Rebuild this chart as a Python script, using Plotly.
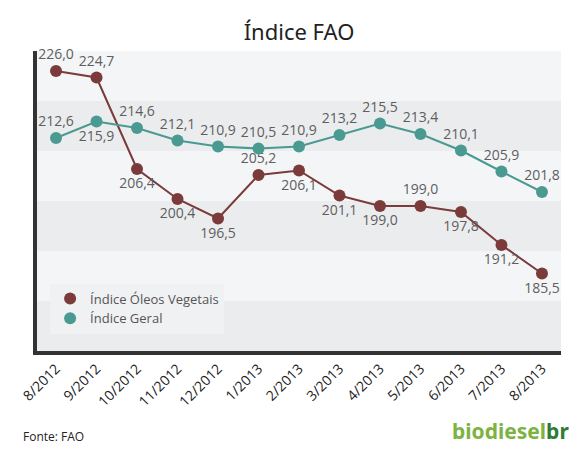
import plotly.graph_objects as go

meses = ["8/2012", "9/2012", "10/2012", "11/2012", "12/2012", "1/2013", "2/2013",
         "3/2013", "4/2013", "5/2013", "6/2013", "7/2013", "8/2013"]
oleos = [226.0, 224.7, 206.4, 200.4, 196.5, 205.2, 206.1, 201.1, 199.0, 199.0, 197.8, 191.2, 185.5]
geral = [212.6, 215.9, 214.6, 212.1, 210.9, 210.5, 210.9, 213.2, 215.5, 213.4, 210.1, 205.9, 201.8]
pos_oleos = ["top center", "top center", "bottom center", "bottom center", "bottom center", "top center",
             "bottom center", "bottom center", "bottom center", "top center", "bottom center",
             "bottom center", "bottom center"]
pos_geral = ["top center", "bottom center"] + ["top center"] * 11

def fmt(v):
    return f"{v:.1f}".replace(".", ",")

fig = go.Figure()
x = list(range(len(meses)))
for nome, vals, pos, cor in [("Índice Óleos Vegetais", oleos, pos_oleos, "#7b3b3b"),
                             ("Índice Geral", geral, pos_geral, "#4a9a92")]:
    fig.add_trace(go.Scatter(x=x, y=vals, mode="lines", line=dict(color=cor, width=2),
                             showlegend=False, hoverinfo="skip"))
    fig.add_trace(go.Scatter(
        x=x, y=vals, name=nome, mode="markers+text", cliponaxis=False,
        text=[fmt(v) for v in vals], textposition=pos,
        textfont=dict(size=14, color="#5e5e5e", family="Open Sans"),
        marker=dict(size=12, color=cor),
    ))

# faixas alternadas
for i, y0 in enumerate(range(170, 230, 10)):
    fig.add_shape(type="rect", xref="paper", yref="y", x0=0, x1=1, y0=y0, y1=y0 + 10,
                  fillcolor="#ebecee" if i % 2 == 0 else "#f4f5f7", line_width=0, layer="below")

fig.update_layout(
    width=582, height=460, paper_bgcolor="white", plot_bgcolor="white",
    margin=dict(l=29, r=29, t=43, b=117),
    title=dict(text="Índice FAO", x=0.5, y=0.965, xanchor="center",
               font=dict(size=22, color="#222222", family="Noto Sans")),
    showlegend=True,
    legend=dict(x=0.025, y=0.225, xanchor="left", yanchor="top", bgcolor="#f0f1f3",
                font=dict(size=13, color="#555555", family="Open Sans"), itemwidth=30),
    xaxis=dict(range=[-0.47, 12.47], tickmode="array", tickvals=x, ticktext=meses,
               tickangle=-45, showgrid=False, zeroline=False, showline=True, automargin=False,
               linecolor="#333333", linewidth=4,
               tickfont=dict(size=14, color="#222222", family="Open Sans")),
    yaxis=dict(range=[170, 230], showticklabels=False, showgrid=False, zeroline=False,
               automargin=False, showline=True, linecolor="#333333", linewidth=4, ticks=""),
)
fig.add_annotation(text="Fonte: FAO", xref="paper", yref="paper", x=-0.03, y=-0.32,
                   xanchor="left", showarrow=False, font=dict(size=12, color="#222222"))
fig.add_annotation(text="<b>biodiesel<span style='color:#2f7d32'>br</span></b>", xref="paper", yref="paper",
                   x=1.02, y=-0.32, xanchor="right", showarrow=False,
                   font=dict(size=21, color="#7cb342", family="Noto Sans"))
fig.write_html("out.html")
